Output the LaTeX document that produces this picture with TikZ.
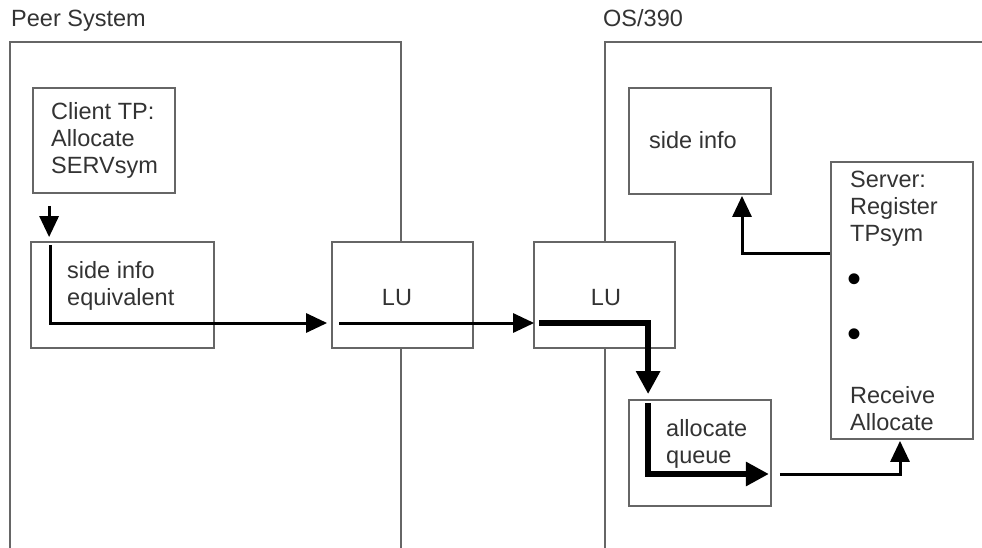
\documentclass[tikz,border=0pt]{standalone}
\usepackage{fontspec}
\setmainfont{Liberation Sans}
\usetikzlibrary{arrows.meta}

\begin{document}
\begin{tikzpicture}[x=1pt,y=-1pt,
  frame/.style={draw=black!60,line width=1.8pt},
  box/.style={draw=black!60,line width=1.8pt,fill=white,inner sep=0pt},
  txt/.style={anchor=base west,inner sep=0pt,align=left,text=black!80,
              font=\fontsize{23.5}{27}\selectfont},
  dot/.style={anchor=center,inner sep=0pt,text=black,font=\fontsize{40}{40}\selectfont},
  flow/.style={draw=black,line width=3pt,-{Triangle[length=21pt,width=19pt]}},
  bigflow/.style={draw=black,line width=6pt,-{Triangle[length=23pt,width=23pt]}}]
\useasboundingbox (0,0) rectangle (982,548);
\clip (0,0) rectangle (982,548);

% the two systems
\draw[frame] (10,570) -- (10,42) -- (401,42) -- (401,570);
\draw[frame] (605,570) -- (605,42) -- (1000,42);
\node[txt] (tpeer) at (11,27) {Peer System};
\node[txt] (tos) at (603,27) {OS/390};

% boxes
\node[box,minimum width=142pt,minimum height=105pt] (client) at (104,140.5) {};
\node[box,minimum width=183pt,minimum height=106pt] (sieq) at (122.5,295) {};
\node[box,minimum width=141pt,minimum height=106pt] (lua) at (402.5,295) {};
\node[box,minimum width=141pt,minimum height=106pt] (lub) at (604.5,295) {};
\node[box,minimum width=142pt,minimum height=106pt] (sinfo) at (700,141) {};
\node[box,minimum width=142pt,minimum height=106pt] (queue) at (700,453) {};
\node[box,minimum width=142pt,minimum height=277pt] (server) at (902,300.5) {};

% flows
\draw[flow] ([xshift=17pt,yshift=-12pt]client.south west) -- ([xshift=19pt,yshift=4pt]sieq.north west);
\draw[flow] ([xshift=20pt,yshift=-4pt]sieq.north west) |- ([xshift=-4pt,yshift=-28pt]lua.west);
\draw[flow] ([xshift=8pt,yshift=-28pt]lua.west) -- ([xshift=1pt,yshift=-28pt]lub.west);
\draw[bigflow] ([xshift=6pt,yshift=-28pt]lub.west) -| ([xshift=20pt,yshift=5pt]queue.north west);
\draw[bigflow] ([xshift=20pt,yshift=-4pt]queue.north west) |- ([xshift=-3pt,yshift=-21pt]queue.east);
\draw[flow] ([xshift=8pt,yshift=-21pt]queue.east) -| ([xshift=-2pt,yshift=-1pt]server.south);
\draw[flow] ([yshift=47.5pt]server.west) -| ([xshift=42pt,yshift=-1pt]sinfo.south);

% texts (base = last line)
\node[txt] (tclient) at (51,174) {Client TP:\\Allocate\\SERVsym};
\node[txt] (tsieq) at (67,305) {side info\\equivalent};
\node[txt,anchor=base] (tlua) at (397,305) {LU};
\node[txt,anchor=base] (tlub) at (606,305) {LU};
\node[txt] (tsinfo) at (649,149) {side info};
\node[txt] (tqueue) at (666,463) {allocate\\queue};
\node[txt] (tserver) at (850,241) {Server:\\Register\\TPsym};
\node[dot] (dot1) at (854,283) {•};
\node[dot] (dot2) at (854,338) {•};
\node[txt] (trecv) at (850,430) {Receive\\Allocate};
\end{tikzpicture}
\end{document}
